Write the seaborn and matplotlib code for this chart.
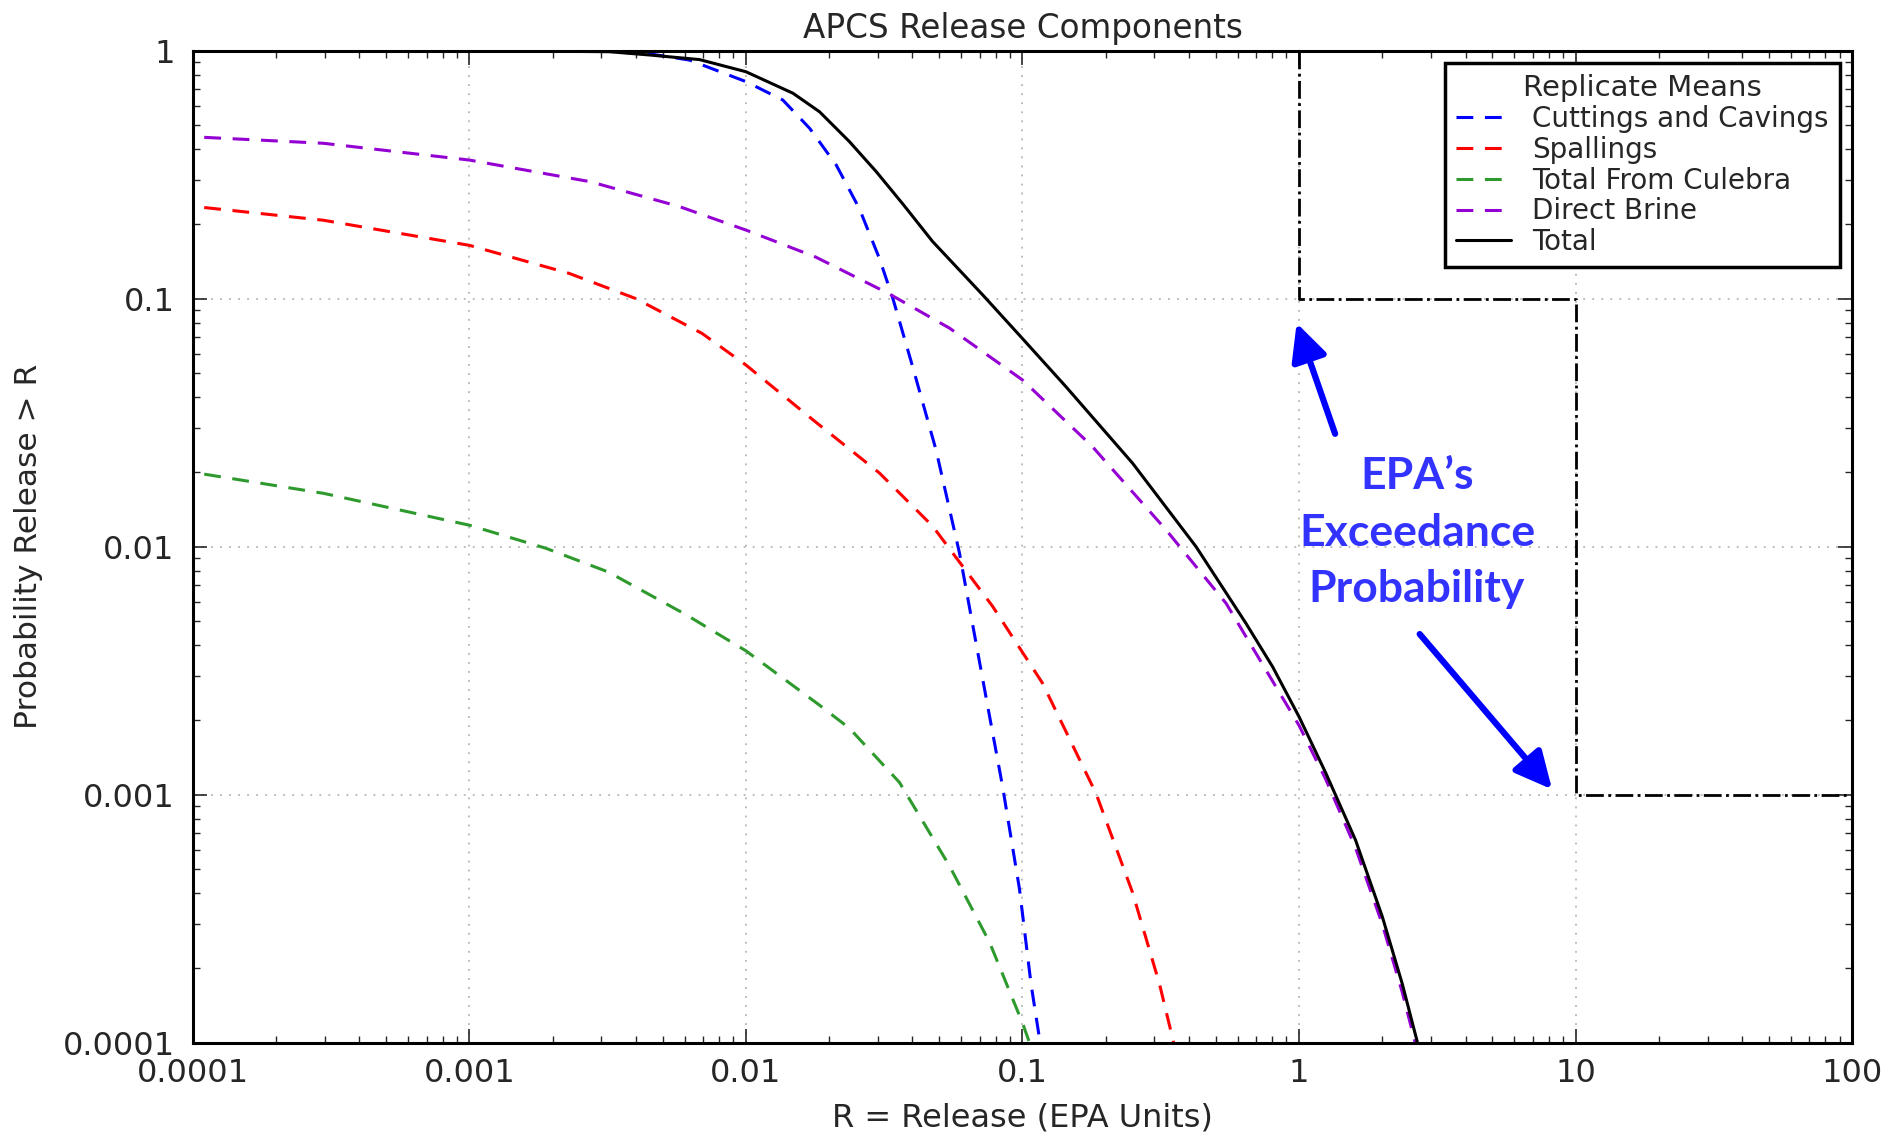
import seaborn as sns
import matplotlib.pyplot as plt
import matplotlib.ticker as mticker
import pandas as pd
import numpy as np

# --- curve values (release R, probability > R) ---
cut_x = [1e-4, 0.001, 0.003, 0.0045, 0.00625, 0.01, 0.0136, 0.017, 0.0212, 0.0257,
         0.0304, 0.034, 0.0401, 0.0487, 0.0592, 0.0718, 0.0847, 0.0975, 0.1074, 0.1158]
cut_y = [1.0, 1.0, 0.995, 0.97, 0.916, 0.75, 0.632, 0.486, 0.346, 0.231,
         0.145, 0.10, 0.053, 0.0245, 0.0094, 0.00292, 0.00108, 4.17e-4, 1.72e-4, 1e-4]

spall_x = [1.1e-4, 2.97e-4, 0.001, 0.00229, 0.004, 0.00694, 0.01, 0.0175, 0.0304, 0.0473,
           0.078, 0.118, 0.1845, 0.25, 0.313, 0.352]
spall_y = [0.233, 0.207, 0.164, 0.1265, 0.10, 0.0724, 0.054, 0.0324, 0.0198, 0.0121,
           0.00574, 0.00282, 0.00101, 4.03e-4, 1.72e-4, 1e-4]

cul_x = [1.1e-4, 2.97e-4, 0.001, 0.00189, 0.00318, 0.0061, 0.01, 0.0184, 0.0237, 0.0359,
         0.0545, 0.076, 0.1, 0.106]
cul_y = [0.0196, 0.0164, 0.0122, 0.00985, 0.0079, 0.0053, 0.0038, 0.0023, 0.00185, 0.00112,
         5.15e-4, 2.54e-4, 1.2e-4, 1e-4]

brine_x = [1.1e-4, 2.97e-4, 0.001, 0.00274, 0.00575, 0.01, 0.0179, 0.0327, 0.0545, 0.1,
           0.179, 0.33, 0.545, 1.0, 1.25, 1.6, 2.0, 2.36, 2.63]
brine_y = [0.447, 0.423, 0.362, 0.296, 0.235, 0.189, 0.147, 0.105, 0.076, 0.047,
           0.0253, 0.0117, 0.0059, 0.0019, 0.00115, 6.1e-4, 3.0e-4, 1.6e-4, 1e-4]

total_x = [1e-4, 0.001, 0.0032, 0.0045, 0.0068, 0.01, 0.0148, 0.01845, 0.0237, 0.0296,
           0.0369, 0.0473, 0.0718, 0.1, 0.1437, 0.25, 0.424, 0.643, 0.802, 1.0,
           1.25, 1.6, 2.0, 2.36, 2.68]
total_y = [1.0, 1.0, 0.99, 0.96, 0.92, 0.822, 0.673, 0.567, 0.429, 0.325,
           0.241, 0.170, 0.1035, 0.069, 0.0441, 0.0217, 0.01, 0.0049, 0.00328, 0.00206,
           0.00122, 6.56e-4, 3.22e-4, 1.73e-4, 1e-4]

# EPA exceedance limit (step line)
epa_x = [1, 1, 10, 10, 100]
epa_y = [1, 0.1, 0.1, 0.001, 0.001]

x_tick_vals = [1e-4, 1e-3, 1e-2, 1e-1, 1, 10, 100]
x_tick_labels = ["0.0001", "0.001", "0.01", "0.1", "1", "10", "100"]
y_tick_vals = [1e-4, 1e-3, 1e-2, 1e-1, 1]
y_tick_labels = ["0.0001", "0.001", "0.01", "0.1", "1"]

series = [
    ("Cuttings and Cavings", cut_x, cut_y, "#0000ff", True),
    ("Spallings", spall_x, spall_y, "#ff0000", True),
    ("Total From Culebra", cul_x, cul_y, "#2e9a2e", True),
    ("Direct Brine", brine_x, brine_y, "#9400d3", True),
    ("Total", total_x, total_y, "#000000", False),
]

sns.set_style("ticks", {"xtick.direction": "in", "ytick.direction": "in"})
plt.rcParams["font.family"] = ["DejaVu Sans"]

fig = plt.figure(figsize=(18.9, 11.35), dpi=100)
ax = fig.add_axes([0.102, 0.0814, 0.878, 0.874])

for name, xs, ys, col, dashed in series:
    df = pd.DataFrame({"R": xs, "P": ys})
    line_ax = sns.lineplot(data=df, x="R", y="P", ax=ax, color=col, linewidth=2.2,
                           label=name, sort=False, estimator=None)
    if dashed:
        line_ax.get_lines()[-1].set_dashes((5.5, 3.8))

ax.plot(epa_x, epa_y, color="black", linestyle="-.", linewidth=2)

ax.set_xscale("log")
ax.set_yscale("log")
ax.set_xlim(1e-4, 100)
ax.set_ylim(1e-4, 1)
ax.xaxis.set_major_locator(mticker.FixedLocator(x_tick_vals))
ax.xaxis.set_major_formatter(mticker.FixedFormatter(x_tick_labels))
ax.yaxis.set_major_locator(mticker.FixedLocator(y_tick_vals))
ax.yaxis.set_major_formatter(mticker.FixedFormatter(y_tick_labels))
ax.xaxis.set_minor_locator(mticker.LogLocator(base=10, subs=np.arange(2, 10), numticks=20))
ax.yaxis.set_minor_locator(mticker.LogLocator(base=10, subs=np.arange(2, 10), numticks=20))
ax.xaxis.set_minor_formatter(mticker.NullFormatter())
ax.yaxis.set_minor_formatter(mticker.NullFormatter())
ax.tick_params(which="both", direction="in", top=True, right=True, labelsize=23)
ax.tick_params(axis="x", pad=11)
ax.tick_params(axis="y", pad=13)
ax.tick_params(which="major", length=10, width=1.2)
ax.tick_params(which="minor", length=5, width=1)
ax.grid(True, which="major", linestyle=(0, (1, 4)), color="#b5b5b5", linewidth=1.3)
for sp in ax.spines.values():
    sp.set_linewidth(2.2)
    sp.set_color("black")

ax.set_title("APCS Release Components", fontsize=23.5, pad=9)
ax.set_xlabel("R = Release (EPA Units)", fontsize=23, labelpad=10)
ax.set_ylabel("Probability Release > R", fontsize=22.5, labelpad=14)

leg = ax.legend(title="Replicate Means", loc="upper right", fontsize=20, title_fontsize=21,
                frameon=True, fancybox=False, borderaxespad=0.45, handlelength=2.0,
                handletextpad=0.75, labelspacing=0.1, borderpad=0.4)
leg.get_frame().set_edgecolor("black")
leg.get_frame().set_linewidth(2.5)
leg.get_frame().set_alpha(1)

# annotation
ax.text(2.67, 0.0114, "EPA\u2019s\nExceedance\nProbability", ha="center", va="center",
        fontsize=32, fontweight="bold", color="#3333ff", family=["Lato", "DejaVu Sans"],
        linespacing=1.5)
arrow = dict(arrowstyle="-|>,head_length=0.45,head_width=0.22", color="#0000ff", lw=4.5,
             mutation_scale=50, shrinkA=0, shrinkB=0)
ax.annotate("", xy=(0.98, 0.0797), xytext=(1.35, 0.0285), arrowprops=arrow)
ax.annotate("", xy=(8.22, 0.00105), xytext=(2.73, 0.00444), arrowprops=arrow)

plt.savefig("out.png", dpi=100)
